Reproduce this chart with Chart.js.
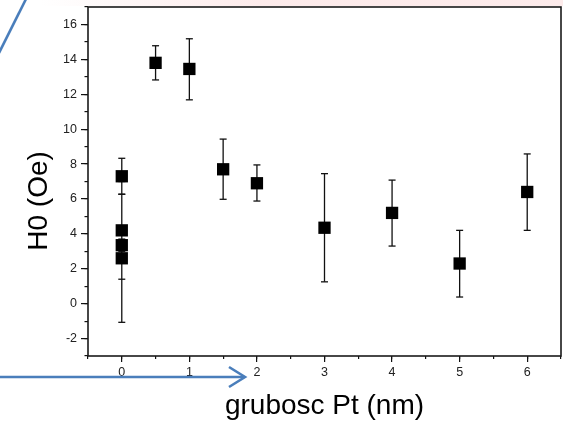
<!DOCTYPE html>
<html><head><meta charset="utf-8">
<script src="https://cdn.jsdelivr.net/npm/chart.js@4"></script>
<style>html,body{margin:0;padding:0;background:#fff}canvas{display:block}</style>
</head><body>
<canvas id="c" width="563" height="424"></canvas>
<script>
// ---- data ----
const thickness = [0, 0, 0, 0, 0.5, 1, 1.5, 2, 3, 4, 5, 6];
const h0       = [7.3, 4.2, 3.35, 2.6, 13.8, 13.45, 7.7, 6.9, 4.35, 5.2, 2.3, 6.4];
const errLow   = [6.27, 1.4, 3.0, -1.07, 12.82, 11.68, 5.98, 5.88, 1.25, 3.3, 0.38, 4.2];
const errHigh  = [8.33, 7.0, 3.7, 6.27, 14.78, 15.18, 9.43, 7.95, 7.45, 7.08, 4.2, 8.58];
const xMajorTicks = [0, 1, 2, 3, 4, 5, 6];
const xMinorTicks = [-0.5, 0, 0.5, 1, 1.5, 2, 2.5, 3, 3.5, 4, 4.5, 5, 5.5, 6, 6.5];
const yMajorTicks = [-2, 0, 2, 4, 6, 8, 10, 12, 14, 16];
const yMinorTicks = [-3, -2, -1, 0, 1, 2, 3, 4, 5, 6, 7, 8, 9, 10, 11, 12, 13, 14, 15, 16, 17];
const xTitle = 'grubosc Pt (nm)';
const yTitle = 'H0 (Oe)';

const FAM = "'Liberation Sans', Arial, sans-serif";
const INK = '#111';

const pts = thickness.map((x, i) => ({x, y: h0[i]}));
const caps = thickness.flatMap((x, i) => [{x, y: errLow[i]}, {x, y: errHigh[i]}]);
const bars = thickness.flatMap((x, i) => [{x, y: errLow[i]}, {x, y: errHigh[i]}, {x, y: null}]);

const setTicks = arr => s => { s.ticks = arr.map(v => ({value: v})); };
const zeroPad = s => { s.paddingTop = 0; s.paddingBottom = 0; s.paddingLeft = 0; s.paddingRight = 0; };

const deco = {
  id: 'deco',
  beforeDraw(chart) {
    const ctx = chart.ctx;
    ctx.save();
    ctx.fillStyle = '#fff';
    ctx.fillRect(0, 0, chart.width, chart.height);
    const g = ctx.createLinearGradient(40, 0, 260, 0);
    g.addColorStop(0, 'rgba(250,215,215,0)');
    g.addColorStop(1, 'rgba(250,215,215,0.5)');
    ctx.fillStyle = g;
    ctx.fillRect(40, 0, chart.width - 40, 6);
    ctx.restore();
  },
  afterDraw(chart) {
    const {ctx, chartArea: a} = chart;
    ctx.save();
    ctx.strokeStyle = '#1a1a1a';
    ctx.lineWidth = 1.6;
    ctx.strokeRect(a.left, a.top, a.right - a.left, a.bottom - a.top);
    ctx.strokeStyle = '#4a7ebb';
    ctx.lineWidth = 2.6;
    ctx.beginPath(); ctx.moveTo(26, -1); ctx.lineTo(-1, 53); ctx.stroke();
    ctx.beginPath(); ctx.moveTo(0, 377); ctx.lineTo(244, 377); ctx.stroke();
    ctx.beginPath(); ctx.moveTo(229, 367); ctx.lineTo(245, 377); ctx.lineTo(229, 387); ctx.stroke();
    ctx.restore();
  }
};

const tickFont = {family: FAM, size: 12.5};
const titleFont = {family: FAM, size: 28};

new Chart(document.getElementById('c'), {
  type: 'scatter',
  data: {
    datasets: [
      {data: pts, order: 0, pointStyle: 'rect', pointRadius: 8.7, backgroundColor: '#000', borderWidth: 0},
      {data: caps, order: 1, pointStyle: 'line', pointRadius: 3.5, borderColor: INK, borderWidth: 1.3, backgroundColor: INK},
      {data: bars, order: 2, showLine: true, spanGaps: false, pointRadius: 0, borderColor: INK, borderWidth: 1.3}
    ]
  },
  options: {
    responsive: false,
    animation: false,
    events: [],
    layout: {autoPadding: false, padding: {left: 0, right: 2, top: 7, bottom: 0}},
    plugins: {legend: {display: false}, tooltip: {enabled: false}},
    scales: {
      x: {
        type: 'linear', position: 'bottom', weight: 1, min: -0.5, max: 6.5,
        afterBuildTicks: setTicks(xMajorTicks),
        afterFit: s => { s.height = 68; zeroPad(s); },
        grid: {drawOnChartArea: false, drawTicks: true, tickLength: 6, color: INK, lineWidth: 1.2},
        border: {display: false},
        ticks: {padding: 3, color: '#222', font: tickFont, maxRotation: 0, autoSkip: false},
        title: {display: true, text: xTitle, color: '#000', font: titleFont, padding: {top: 0, bottom: 1}}
      },
      xMinor: {
        type: 'linear', position: 'bottom', weight: 0, min: -0.5, max: 6.5,
        afterBuildTicks: setTicks(xMinorTicks),
        afterFit: s => { s.height = 0; zeroPad(s); },
        grid: {drawOnChartArea: false, drawTicks: true, tickLength: 3, color: INK, lineWidth: 1.2},
        border: {display: false},
        ticks: {display: false, callback: () => ''}
      },
      y: {
        type: 'linear', position: 'left', weight: 1, min: -3, max: 17,
        afterBuildTicks: setTicks(yMajorTicks),
        afterFit: s => { s.width = 88; zeroPad(s); },
        grid: {drawOnChartArea: false, drawTicks: true, tickLength: 7, color: INK, lineWidth: 1.2},
        border: {display: false},
        ticks: {padding: 4, color: '#222', font: tickFont, autoSkip: false},
        title: {display: true, text: yTitle + '     ', color: '#000', font: titleFont, padding: {top: 22, bottom: 0}}
      },
      yMinor: {
        type: 'linear', position: 'left', weight: 0, min: -3, max: 17,
        afterBuildTicks: setTicks(yMinorTicks),
        afterFit: s => { s.width = 0; zeroPad(s); },
        grid: {drawOnChartArea: false, drawTicks: true, tickLength: 3.5, color: INK, lineWidth: 1.2},
        border: {display: false},
        ticks: {display: false, callback: () => ''}
      }
    }
  },
  plugins: [deco]
});
</script>
</body></html>
